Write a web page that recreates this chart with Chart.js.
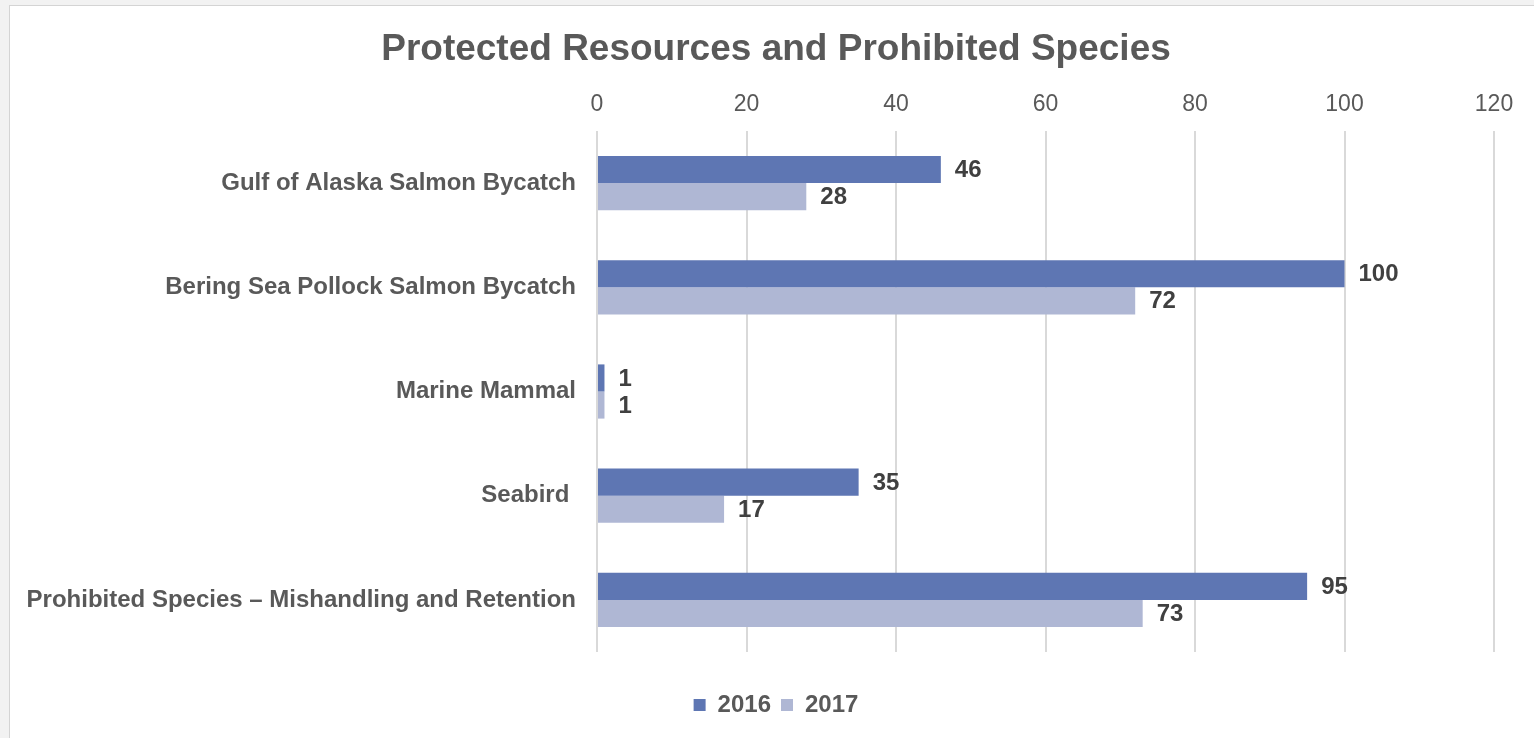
<!DOCTYPE html>
<html>
<head>
  <meta charset="utf-8" />
  <title>Protected Resources and Prohibited Species</title>
  <script src="https://cdn.jsdelivr.net/npm/chart.js"></script>
  <style>
    body { margin: 0; background: #f2f2f2; overflow: hidden; }
    #frame {
      position: absolute; left: 9px; top: 5px;
      width: 1560px; height: 760px;
      background: #fff; border: 1px solid #d4d4d4;
    }
    canvas { display: block; }
  </style>
</head>
<body>
<div id="frame">
  <canvas id="chart" width="1532" height="732"></canvas>
</div>

<script>
  // Values
  const categories = [
    'Gulf of Alaska Salmon Bycatch',
    'Bering Sea Pollock Salmon Bycatch',
    'Marine Mammal',
    'Seabird ',
    'Prohibited Species \u2013 Mishandling and Retention'
  ];
  const values2016 = [46, 100, 1, 35, 95];
  const values2017 = [28, 72, 1, 17, 73];
  const xTicks = { min: 0, max: 120, step: 20 };

  const fontFamily = '"Liberation Sans", Arial, sans-serif';
  const textGray = '#595959';

  // draws the bold value next to the end of each bar
  const valueLabels = {
    id: 'valueLabels',
    afterDatasetsDraw(chart) {
      const ctx = chart.ctx;
      ctx.save();
      ctx.font = 'bold 24px ' + fontFamily;
      ctx.fillStyle = '#404040';
      ctx.textAlign = 'left';
      ctx.textBaseline = 'middle';
      chart.data.datasets.forEach((ds, i) => {
        chart.getDatasetMeta(i).data.forEach((bar, j) => {
          ctx.fillText(ds.data[j], bar.x + 14, bar.y + 1);
        });
      });
      ctx.restore();
    }
  };

  const ctx = document.getElementById('chart').getContext('2d');
  new Chart(ctx, {
    type: 'bar',
    data: {
      labels: categories,
      datasets: [
        { label: '2016', data: values2016, backgroundColor: '#5E76B3', borderWidth: 0 },
        { label: '2017', data: values2017, backgroundColor: '#AFB7D4', borderWidth: 0 }
      ]
    },
    options: {
      indexAxis: 'y',
      responsive: false,
      animation: false,
      devicePixelRatio: 1,
      layout: { padding: { left: 0, right: 0, top: 0, bottom: 11 } },
      datasets: { bar: { categoryPercentage: 0.52, barPercentage: 1 } },
      scales: {
        x: {
          position: 'top',
          min: xTicks.min,
          max: xTicks.max,
          ticks: { stepSize: xTicks.step, padding: 13, color: textGray, font: { family: fontFamily, size: 23 } },
          grid: { color: '#d9d9d9', lineWidth: 2, drawTicks: false },
          border: { display: false },
          afterFit: s => { s.height = 50.6; }
        },
        // empty spacer between plot and legend
        xGap: {
          type: 'linear',
          position: 'bottom',
          display: true,
          ticks: { display: false },
          grid: { display: false, drawTicks: false },
          border: { display: false },
          afterFit: s => { s.height = 31; }
        },
        y: {
          ticks: { padding: 21, color: textGray, font: { family: fontFamily, size: 24, weight: 'bold' } },
          grid: { display: false, drawTicks: false },
          border: { display: false },
          afterFit: s => { s.width = 587; }
        },
        // empty spacer on the right so the plot ends at 120
        yGap: {
          type: 'linear',
          position: 'right',
          display: true,
          ticks: { display: false },
          grid: { display: false, drawTicks: false },
          border: { display: false },
          afterFit: s => { s.width = 48; }
        }
      },
      plugins: {
        title: {
          display: true,
          text: 'Protected Resources and Prohibited Species',
          color: textGray,
          font: { family: fontFamily, size: 37, weight: 'bold' },
          padding: { top: 22, bottom: 8 }
        },
        legend: {
          position: 'bottom',
          labels: {
            boxWidth: 12,
            boxHeight: 12,
            padding: 10,
            color: textGray,
            font: { family: fontFamily, size: 24, weight: 'bold' }
          }
        },
        tooltip: { enabled: false }
      }
    },
    plugins: [valueLabels]
  });
</script>
</body>
</html>
